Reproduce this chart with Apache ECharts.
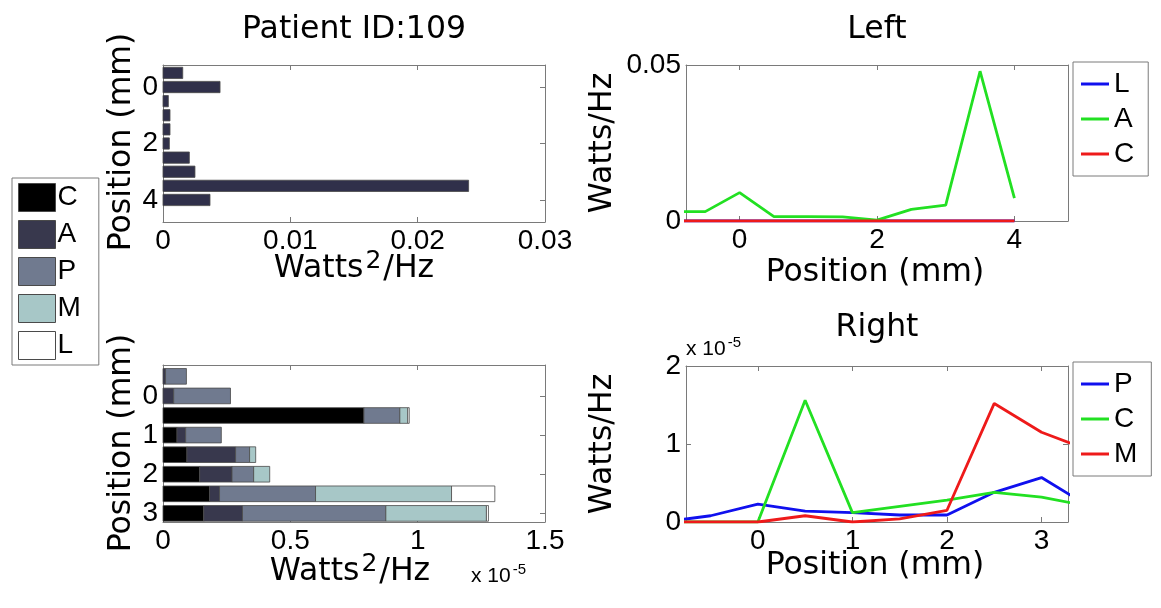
<!DOCTYPE html>
<html><head><meta charset="utf-8">
<script src="https://cdn.jsdelivr.net/npm/echarts@6/dist/echarts.min.js"></script>
<style>
html,body{margin:0;padding:0;background:#fff;}
.c{position:absolute;left:0;top:0;width:1161px;height:608px;}
</style></head><body>
<div id="c1" class="c"></div><div id="c2" class="c"></div><div id="c3" class="c"></div>
<script>
// ---------- DATA ----------
// Top-left bar chart (Watts^2/Hz), only component A visible
const topPositions = [-0.5, 0, 0.5, 1, 1.5, 2, 2.5, 3, 3.5, 4];
const topA = [0.00155, 0.00448, 0.00042, 0.00055, 0.00055, 0.0005, 0.00207, 0.00251, 0.0240, 0.00369];
// Bottom-left stacked bars (x 10^-5 Watts^2/Hz)
const botPositions = [-0.5, 0, 0.5, 1, 1.5, 2, 2.5, 3];
const botC = [0, 0, 0.789, 0.055, 0.094, 0.144, 0.183, 0.160];
const botA = [0.010, 0.042, 0, 0.034, 0.191, 0.127, 0.039, 0.152];
const botP = [0.082, 0.223, 0.141, 0.140, 0.055, 0.085, 0.377, 0.563];
const botM = [0, 0, 0.031, 0, 0.024, 0.063, 0.534, 0.395];
const botL = [0, 0, 0.006, 0, 0, 0, 0.170, 0.008];
// "Left" line chart (Watts/Hz)
const leftPositions = [-1, -0.5, 0, 0.5, 1, 1.5, 2, 2.5, 3, 3.5, 4];
const leftL = [0, 0, 0, 0, 0, 0, 0, 0, 0, 0, 0];
const leftA = [0.003, 0.003, 0.0091, 0.0014, 0.0014, 0.0013, 0.0003, 0.0037, 0.0051, 0.048, 0.0073];
const leftC = [0, 0, 0, 0, 0, 0, 0, 0, 0, 0, 0];
// "Right" line chart (x 10^-5 Watts/Hz)
const rightPositions = [-1, -0.5, 0, 0.5, 1, 1.5, 2, 2.5, 3, 3.5];
const rightP = [0, 0.08, 0.23, 0.14, 0.12, 0.09, 0.09, 0.38, 0.57, 0.20];
const rightC = [0, 0, 0, 1.56, 0.12, 0.20, 0.28, 0.38, 0.32, 0.20];
const rightM = [0, 0, 0, 0.08, 0.0, 0.04, 0.15, 1.52, 1.15, 0.92];
// Tick labels
const tlXTicks = [0, 0.01, 0.02, 0.03];
const tlYTicks = [0, 2, 4];
const blXTicks = [0, 0.5, 1, 1.5];
const blYTicks = [0, 1, 2, 3];
const trXTicks = [0, 2, 4];
const trYTicks = [0, 0.05];
const brXTicks = [0, 1, 2, 3];
const brYTicks = [0, 1, 2];

// ---------- STYLE ----------
const FONT = 'Liberation Sans, Arial, sans-serif';
const LFONT = 'DejaVu Sans, sans-serif';
const LSIZE = 31.5;
const GRAY = '#7a7a7a';
const BONE = {C: '#000000', A: '#38384d', P: '#707a8f', M: '#a7c7c7', L: '#ffffff'};
const LINE = {blue: '#1010ee', green: '#22e022', red: '#ee1a1a'};
const BAR_H = 0.4;

function axes(gi, xmin, xmax, xt, ymin, ymax, yt, yInv) {
  const base = (min, max, ticks, pos, labels) => ({
    type: 'value', gridIndex: gi, min: min, max: max, position: pos,
    splitLine: {show: false},
    axisLine: {show: true, onZero: false, lineStyle: {color: GRAY, width: 1}},
    axisTick: {show: true, inside: true, length: 5, customValues: ticks, lineStyle: {color: GRAY}},
    axisLabel: {show: labels, customValues: ticks, formatter: v => String(v), color: '#000',
      fontSize: 28, fontFamily: FONT, margin: 5}
  });
  const xb = base(xmin, xmax, xt, 'bottom', true);
  const xtp = base(xmin, xmax, xt, 'top', false);
  const yl = base(ymin, ymax, yt, 'left', true); yl.inverse = !!yInv;
  const yr = base(ymin, ymax, yt, 'right', false); yr.inverse = !!yInv;
  return {x: [xb, xtp], y: [yl, yr]};
}

function barRender(params, api) {
  const s = api.value(0), e = api.value(1), p = api.value(2);
  if (!(e - s > 0)) return null;
  const a = api.coord([s, p]), b = api.coord([e, p]);
  const h = Math.abs(api.size([0, BAR_H])[1]);
  return {type: 'rect', shape: {x: a[0], y: a[1] - h / 2, width: b[0] - a[0], height: h},
    style: {fill: api.visual('color'), stroke: '#4a4a4a', lineWidth: 0.8}};
}

function stack(positions, layers) {
  const acc = positions.map(() => 0);
  return layers.map(vals => positions.map((p, i) => {
    const s = acc[i]; acc[i] += vals[i]; return [s, acc[i], p];
  }));
}

// ---------- LEFT INSTANCE (two bar panels + bar legend + texts) ----------
const tl = axes(0, 0, 0.03, tlXTicks, -0.78, 4.78, tlYTicks, true);
const bl = axes(1, 0, 1.5, blXTicks, -0.79, 3.22, blYTicks, true);
const names = ['C', 'A', 'P', 'M', 'L'];
const botStack = stack(botPositions, [botC, botA, botP, botM, botL]);
const topStack = stack(topPositions, [topA]);

const series1 = [{
  type: 'custom', name: 'A (top)', xAxisIndex: 0, yAxisIndex: 0,
  itemStyle: {color: '#30304a'}, encode: {x: [0, 1], y: 2},
  renderItem: barRender, data: topStack[0]
}];
names.forEach((n, k) => series1.push({
  type: 'custom', name: n, xAxisIndex: 2, yAxisIndex: 2,
  itemStyle: {color: BONE[n], borderColor: '#4a4a4a', borderWidth: 1},
  encode: {x: [0, 1], y: 2}, renderItem: barRender, data: botStack[k]
}));

function txt(x, y, text, size, rot, font) {
  return {type: 'text', x: x, y: y, rotation: rot || 0,
    style: {text: text, fontSize: size, fontFamily: font || LFONT, fill: '#000',
      textAlign: 'center', textVerticalAlign: 'middle'}};
}
// text with a superscript: main tokens bottom-aligned with extra top padding, sup token top-aligned
function supTxt(x, y, main, sup, size, supSize, lift, align, font) {
  const f = font || LFONT;
  return {type: 'text', x: x, y: y, style: {
    text: main.map((m, i) => i < sup.length ? '{n|' + m + '}{s|' + sup[i] + '}' : '{n|' + m + '}').join(''),
    textAlign: align || 'center', textVerticalAlign: 'middle', fill: '#000',
    rich: {n: {fontSize: size, fontFamily: f, fill: '#000', lineHeight: size + 4, verticalAlign: 'bottom', padding: [lift, 0, 0, 0]},
           s: {fontSize: supSize, fontFamily: f, fill: '#000', verticalAlign: 'top', lineHeight: supSize, padding: [0, 2, 0, 2]}}
  }};
}

const c1 = echarts.init(document.getElementById('c1'));
c1.setOption({
  animation: false,
  grid: [
    {left: 163, top: 65, width: 382, height: 157},
    {left: 163, top: 365, width: 382, height: 157}
  ],
  xAxis: tl.x.concat(bl.x),
  yAxis: tl.y.concat(bl.y),
  legend: {
    data: names, orient: 'vertical', left: 12, top: 178,
    icon: 'rect', itemWidth: 37, itemHeight: 28, itemGap: 8,
    padding: [5, 18, 5, 6], borderColor: GRAY, borderWidth: 1, selectedMode: false,
    itemStyle: {borderColor: '#4a4a4a', borderWidth: 1},
    textStyle: {fontSize: 28, fontFamily: FONT, color: '#000', padding: [0, 0, 0, -3]}
  },
  series: series1,
  graphic: [
    txt(354, 30, 'Patient ID:109', 31.5),
    txt(877, 30, 'Left', 31.5),
    txt(877, 328, 'Right', 31.5),
    supTxt(354, 267, ['Watts', '/Hz'], ['2'], LSIZE, 25, 6),
    supTxt(350, 570, ['Watts', '/Hz'], ['2'], LSIZE, 25, 6),
    supTxt(471, 574.5, ['x 10'], ['-5'], 21, 15, 5, 'left', FONT),
    supTxt(686, 347.5, ['x 10'], ['-5'], 21, 15, 5, 'left', FONT),
    txt(122, 142, 'Position (mm)', LSIZE, Math.PI / 2),
    txt(122, 443, 'Position (mm)', LSIZE, Math.PI / 2),
    txt(875, 273, 'Position (mm)', LSIZE),
    txt(875, 566, 'Position (mm)', LSIZE),
    txt(603, 143, 'Watts/Hz', LSIZE, Math.PI / 2),
    txt(603, 444, 'Watts/Hz', LSIZE, Math.PI / 2)
  ]
});

// ---------- LINE INSTANCES ----------
function lineSeries(name, xs, ys, color) {
  return {type: 'line', name: name, data: xs.map((x, i) => [x, ys[i]]), symbol: 'none',
    showSymbol: false, clip: true, lineStyle: {color: color, width: 2.8}, itemStyle: {color: color}};
}
function lineLegend(top, data) {
  return {data: data, orient: 'vertical', left: 1073, top: top, icon: 'rect',
    itemWidth: 28, itemHeight: 3, itemGap: 7, padding: [8, 14, 8, 8],
    borderColor: GRAY, borderWidth: 1, selectedMode: false,
    textStyle: {fontSize: 28, fontFamily: FONT, color: '#000'}};
}
const tr = axes(0, -0.78, 4.78, trXTicks, 0, 0.05, trYTicks, false);
const c2 = echarts.init(document.getElementById('c2'));
c2.setOption({
  animation: false,
  grid: {left: 686, top: 65, width: 382, height: 156},
  xAxis: tr.x, yAxis: tr.y,
  legend: lineLegend(62, ['L', 'A', 'C']),
  series: [
    lineSeries('L', leftPositions, leftL, LINE.blue),
    lineSeries('A', leftPositions, leftA, LINE.green),
    lineSeries('C', leftPositions, leftC, LINE.red)
  ]
});

const br = axes(0, -0.76, 3.28, brXTicks, 0, 2, brYTicks, false);
const c3 = echarts.init(document.getElementById('c3'));
c3.setOption({
  animation: false,
  grid: {left: 686, top: 366, width: 382, height: 156},
  xAxis: br.x, yAxis: br.y,
  legend: lineLegend(362, ['P', 'C', 'M']),
  series: [
    lineSeries('P', rightPositions, rightP, LINE.blue),
    lineSeries('C', rightPositions, rightC, LINE.green),
    lineSeries('M', rightPositions, rightM, LINE.red)
  ]
});
</script></body></html>
